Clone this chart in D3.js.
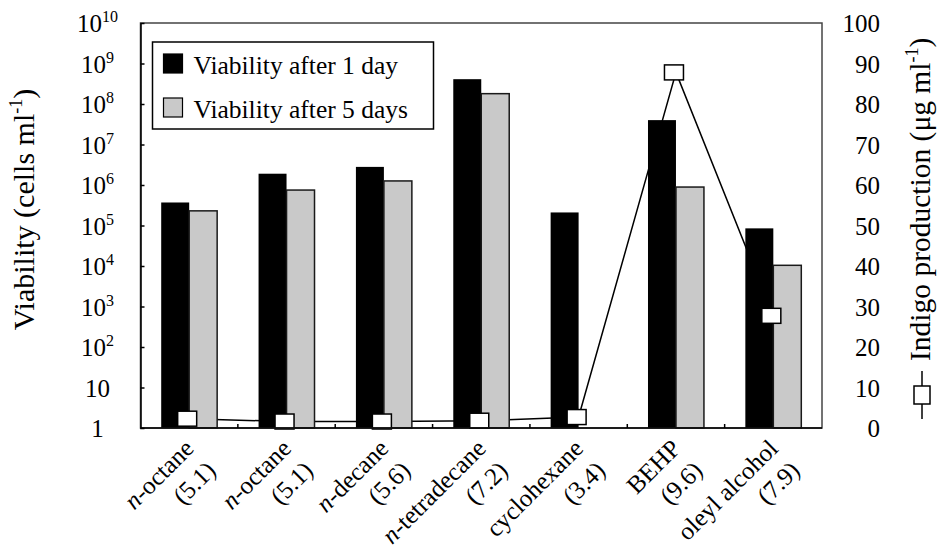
<!DOCTYPE html>
<html>
<head>
<meta charset="utf-8">
<script src="https://cdn.jsdelivr.net/npm/d3@7"></script>
<style>
  body { margin: 0; background: #fff; }
  text { font-family: "Times New Roman", "Liberation Serif", serif; fill: #000; }
</style>
</head>
<body>
<script>
// solvent name (n-alkanes get an italic "n"), log P shown under it
var solvents = ["n-octane", "n-octane", "n-decane", "n-tetradecane", "cyclohexane", "BEHP", "oleyl alcohol"];
var logP = ["5.1", "5.1", "5.6", "7.2", "3.4", "9.6", "7.9"];

// viability, cells per ml (log axis)
var day1 = [3.7e5, 1.9e6, 2.8e6, 4.1e8, 2.1e5, 4.0e7, 8.5e4];
var day5 = [2.3e5, 7.5e5, 1.26e6, 1.8e8, null, 8.9e5, 1.04e4];

// indigo production, ug per ml (right axis)
var indigo = [2.3, 1.6, 1.6, 1.8, 2.7, 87.8, 27.7];

var leftTicks = [0, 1, 2, 3, 4, 5, 6, 7, 8, 9, 10];
var rightTicks = [0, 10, 20, 30, 40, 50, 60, 70, 80, 90, 100];

var w = 937,
    h = 546;

var margin = { top: 23, right: 115, bottom: 118, left: 140.5 },
    width = w - margin.left - margin.right,
    height = h - margin.top - margin.bottom;

var svg = d3
    .select("body")
    .append("svg")
    .attr("width", w)
    .attr("height", h)
    .append("g")
    .attr("transform", "translate(" + margin.left + "," + margin.top + ")");

var idx = solvents.map(function (d, i) { return i; });

var x = d3.scaleBand().domain(idx).range([0, width]);
var xs = d3.scaleBand().domain(["d1", "d5"]).range([0, x.bandwidth()]).paddingOuter(0.74);

var y = d3.scaleLog().domain([1, 1e10]).range([height, 0]);
var y2 = d3.scaleLinear().domain([0, 100]).range([height, 0]);

// indigo line goes behind the bars
var line = d3.line()
    .x(function (d, i) { return x(i) + x.bandwidth() / 2; })
    .y(function (d) { return y2(d); });

svg.append("path")
    .datum(indigo)
    .attr("d", line)
    .attr("fill", "none")
    .attr("stroke", "#000")
    .attr("stroke-width", 1.5);

var groups = svg.selectAll(".grp")
    .data(idx)
    .enter()
    .append("g")
    .attr("transform", function (i) { return "translate(" + x(i) + ",0)"; });

groups.append("rect")
    .attr("x", xs("d1"))
    .attr("y", function (i) { return y(day1[i]); })
    .attr("width", xs.bandwidth())
    .attr("height", function (i) { return height - y(day1[i]); })
    .attr("fill", "#000");

groups.filter(function (i) { return day5[i] != null; })
    .append("rect")
    .attr("x", xs("d5"))
    .attr("y", function (i) { return y(day5[i]); })
    .attr("width", xs.bandwidth())
    .attr("height", function (i) { return height - y(day5[i]); })
    .attr("fill", "#c9c9c9")
    .attr("stroke", "#1a1a1a")
    .attr("stroke-width", 1.5);

// markers on top
svg.selectAll(".mk")
    .data(indigo)
    .enter()
    .append("rect")
    .attr("x", function (d, i) { return x(i) + x.bandwidth() / 2 - 11.5; })
    .attr("y", function (d) { return y2(d) - 7.5; })
    .attr("width", 19)
    .attr("height", 15)
    .attr("fill", "#fff")
    .attr("stroke", "#000")
    .attr("stroke-width", 1.5);

// frame
svg.append("rect")
    .attr("width", width)
    .attr("height", height)
    .attr("fill", "none")
    .attr("stroke", "#444")
    .attr("stroke-width", 1.5);

// left axis, inward ticks
var yaxis = svg.append("g")
    .call(d3.axisLeft(y)
        .tickValues(leftTicks.slice(1, 10).map(function (p) { return Math.pow(10, p); }))
        .tickSize(-4)
        .tickFormat(""));
yaxis.select(".domain").attr("stroke", "#000").attr("stroke-width", 1.5);
yaxis.selectAll(".tick line").attr("stroke", "#000").attr("stroke-width", 1.5);

var ylab = svg.append("g")
    .selectAll("text")
    .data(leftTicks)
    .enter()
    .append("text")
    .attr("x", -43)
    .attr("y", function (p) { return y(Math.pow(10, p)) + 9; })
    .attr("text-anchor", "middle")
    .attr("font-size", 25);
ylab.each(function (p) {
    var t = d3.select(this);
    if (p === 0) t.text("1");
    else if (p === 1) t.text("10");
    else {
        t.append("tspan").text("10");
        t.append("tspan").attr("font-size", 16).attr("dy", -10).text(p);
    }
});

// bottom axis, inward ticks between groups
var xaxis = svg.append("g")
    .attr("transform", "translate(0," + height + ")");
xaxis.selectAll("line")
    .data(idx.slice(1))
    .enter()
    .append("line")
    .attr("x1", function (i) { return x(i); })
    .attr("x2", function (i) { return x(i); })
    .attr("y1", 0)
    .attr("y2", -4)
    .attr("stroke", "#000")
    .attr("stroke-width", 1.5);
xaxis.append("line")
    .attr("x1", 0).attr("x2", width)
    .attr("stroke", "#000").attr("stroke-width", 1.5);

var xl = xaxis.selectAll(".xl")
    .data(idx)
    .enter()
    .append("text")
    .attr("text-anchor", "end")
    .attr("font-size", 25)
    .attr("transform", function (i) {
        return "translate(" + (x(i) + x.bandwidth() / 2 + 6) + ",22) rotate(-45)";
    });
xl.each(function (i) {
    var t = d3.select(this);
    var name = solvents[i];
    var l1 = t.append("tspan").attr("x", 0).attr("dy", 0);
    if (name.indexOf("n-") === 0) {
        l1.append("tspan").attr("font-style", "italic").text("n");
        l1.append("tspan").text(name.slice(1));
    } else {
        l1.text(name);
    }
    t.append("tspan").attr("x", 0).attr("dy", 31).text("(" + logP[i] + ")");
});

// right axis labels
svg.append("g")
    .selectAll("text")
    .data(rightTicks)
    .enter()
    .append("text")
    .attr("x", width + 58)
    .attr("y", function (d) { return y2(d) + 9; })
    .attr("text-anchor", "end")
    .attr("font-size", 25)
    .text(function (d) { return d; });

// left title
var lt = svg.append("text")
    .attr("transform", "translate(-107," + (height / 2 - 16) + ") rotate(-90)")
    .attr("text-anchor", "middle")
    .attr("font-size", 30);
lt.append("tspan").text("Viability (cells ml");
lt.append("tspan").attr("font-size", 18).attr("dy", -12).text("-1");
lt.append("tspan").attr("dy", 12).text(")");

// right title with line-marker key
var rt = svg.append("text")
    .attr("transform", "translate(" + (width + 107.5) + ",338) rotate(-90)")
    .attr("text-anchor", "start")
    .attr("font-size", 29.5);
rt.append("tspan").text("Indigo production (\u03bcg ml");
rt.append("tspan").attr("font-size", 18).attr("dy", -12).text("-1");
rt.append("tspan").attr("dy", 12).text(")");

var key = svg.append("g").attr("transform", "translate(" + (width + 100) + ",372)");
key.append("line").attr("y1", -24).attr("y2", 24).attr("stroke", "#000").attr("stroke-width", 1.5);
key.append("rect").attr("x", -8).attr("y", -9).attr("width", 16).attr("height", 18)
    .attr("fill", "#fff").attr("stroke", "#000").attr("stroke-width", 1.5);

// legend
var lg = svg.append("g").attr("transform", "translate(12,19)");
lg.append("rect")
    .attr("width", 281).attr("height", 87)
    .attr("fill", "#fff").attr("stroke", "#000").attr("stroke-width", 1.5);
var items = [["Viability after 1 day", "#000"], ["Viability after 5 days", "#c9c9c9"]];
items.forEach(function (it, k) {
    lg.append("rect")
        .attr("x", 11).attr("y", 12 + k * 44)
        .attr("width", 19).attr("height", 19)
        .attr("fill", it[1]).attr("stroke", "#000").attr("stroke-width", 1.2);
    lg.append("text")
        .attr("x", 41).attr("y", 32 + k * 44)
        .attr("font-size", 25.5)
        .text(it[0]);
});
</script>
</body>
</html>
